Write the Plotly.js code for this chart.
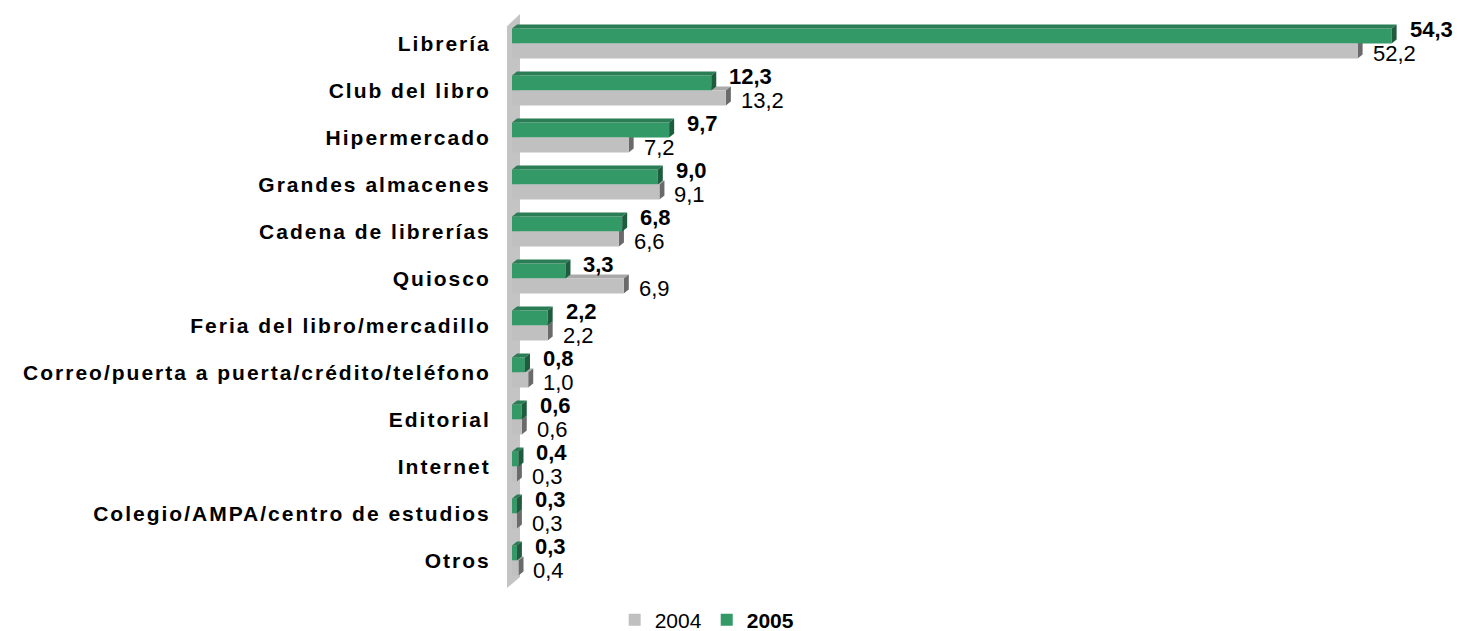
<!DOCTYPE html>
<html>
<head>
<meta charset="utf-8">
<script src="https://cdn.plot.ly/plotly-3.0.1.min.js"></script>
<style>
html,body{margin:0;padding:0;background:#fff;}
#chart{width:1464px;height:631px;}
#chart .ytick text{letter-spacing:2px;}
</style>
</head>
<body>
<div id="chart"></div>
<script>
var categories = ["Librería","Club del libro","Hipermercado","Grandes almacenes","Cadena de librerías","Quiosco","Feria del libro/mercadillo","Correo/puerta a puerta/crédito/teléfono","Editorial","Internet","Colegio/AMPA/centro de estudios","Otros"];
var values2004 = [52.2,13.2,7.2,9.1,6.6,6.9,2.2,1.0,0.6,0.3,0.3,0.4];
var values2005 = [54.3,12.3,9.7,9.0,6.8,3.3,2.2,0.8,0.6,0.4,0.3,0.3];
var seriesNames = ["2004","2005"];

var GREEN = "#339966", GREEN_SIDE = "#1f5c3e", GREEN_TOP = "#2a7d55";
var GRAY = "#c0c0c0", GRAY_SIDE = "#6a6a6a", GRAY_TOP = "#a9a9a9";
var FONT = "Liberation Sans, Arial, sans-serif";

var idx = categories.map(function(c,i){return i;});
var BW = 0.32;          // bar width in category units (bargap 0.36, 2 bars)
var DX = 0.31;          // 3D depth in x units
var DY = 0.085;         // 3D depth in y units

function fmt(v){ return v.toFixed(1).replace('.', ','); }

var traces = [
  {type:'bar', orientation:'h', name:'<b>'+seriesNames[1]+'</b>', x: values2005, y: idx,
   marker:{color:GREEN, line:{width:0}}, hoverinfo:'skip'},
  {type:'bar', orientation:'h', name:seriesNames[0], x: values2004, y: idx,
   marker:{color:GRAY, line:{width:0}}, hoverinfo:'skip'}
];

function poly(pts){ return 'M' + pts.map(function(p){return p[0]+','+p[1];}).join(' L') + ' Z'; }

var shapes = [];
// back wall
shapes.push({type:'path', xref:'paper', yref:'paper', layer:'below',
  path: poly([[-0.0055,0.989],[0.0088,1.0106],[0.0088,0.0124],[-0.0055,-0.0071]]),
  fillcolor:'#c4c4c4', line:{width:0}});
// gray 3D faces (behind bars)
idx.forEach(function(i){
  var v = values2004[i];
  shapes.push({type:'path', xref:'x', yref:'y', layer:'below',
    path: poly([[0,i],[v,i],[v+DX,i-DY],[DX,i-DY]]), fillcolor:GRAY_TOP, line:{width:0}});
  shapes.push({type:'path', xref:'x', yref:'y', layer:'below',
    path: poly([[v,i],[v+DX,i-DY],[v+DX,i+BW-DY],[v,i+BW]]), fillcolor:GRAY_SIDE, line:{width:0}});
});
// green 3D faces
idx.forEach(function(i){
  var v = values2005[i];
  var t = i-BW;
  shapes.push({type:'path', xref:'x', yref:'y', layer:'above',
    path: poly([[0,t],[v,t],[v+DX,t-DY],[DX,t-DY]]), fillcolor:GREEN_TOP, line:{width:0}});
  shapes.push({type:'path', xref:'x', yref:'y', layer:'above',
    path: poly([[v,t],[v+DX,t-DY],[v+DX,i-DY],[v,i]]), fillcolor:GREEN_SIDE, line:{width:0}});
});

var annotations = [];
idx.forEach(function(i){
  annotations.push({x: values2005[i], y: i-BW/2, xref:'x', yref:'y', text:'<b>'+fmt(values2005[i])+'</b>',
    showarrow:false, xanchor:'left', yanchor:'middle', xshift:16, yshift:6,
    font:{family:FONT, size:22, color:'#000'}});
  annotations.push({x: values2004[i], y: i+BW/2, xref:'x', yref:'y', text:fmt(values2004[i]),
    showarrow:false, xanchor:'left', yanchor:'middle', xshift:13, yshift:-2,
    font:{family:FONT, size:22, color:'#000'}});
});

var layout = {
  width:1464, height:631,
  margin:{l:512, r:40, t:20, b:47, autoexpand:false},
  paper_bgcolor:'#fff', plot_bgcolor:'rgba(0,0,0,0)',
  barmode:'group', bargap:0.36, bargroupgap:0,
  separators:', ',
  showlegend:true,
  legend:{orientation:'h', x:0.214, xanchor:'center', y:-0.064, yanchor:'middle',
    traceorder:'reversed', font:{family:FONT, size:21, color:'#000'}, itemwidth:30},
  xaxis:{range:[0,56.3], showgrid:false, zeroline:false, showline:false, showticklabels:false, ticks:'', fixedrange:true, automargin:false},
  yaxis:{type:'linear', range:[11.5,-0.5], tickmode:'array', tickvals:idx, ticktext:categories,
    showgrid:false, zeroline:false, showline:false, ticks:'outside', ticklen:16, tickcolor:'rgba(0,0,0,0)',
    tickfont:{family:FONT, size:21, color:'#000', weight:'bold'}, fixedrange:true, automargin:false},
  shapes:shapes,
  annotations:annotations,
  hovermode:false
};

Plotly.newPlot('chart', traces, layout, {displayModeBar:false, staticPlot:true});
</script>
</body>
</html>
